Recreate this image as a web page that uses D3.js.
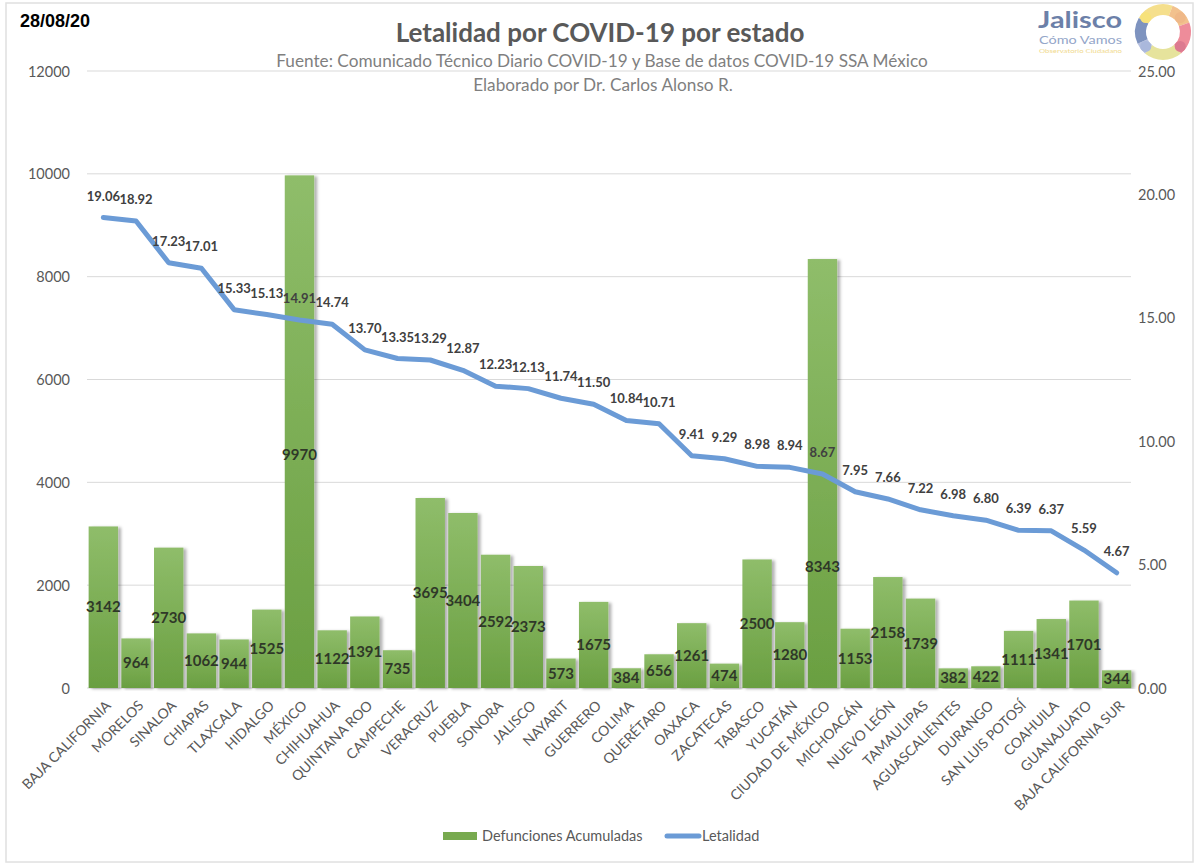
<!DOCTYPE html>
<html>
<head>
<meta charset="utf-8">
<script src="https://cdn.jsdelivr.net/npm/d3@7"></script>
<style>
  body { margin: 0; background: #fff; }
  svg { display: block; font-family: Lato, "Open Sans", sans-serif; }
</style>
</head>
<body>
<svg id="chart" width="1200" height="866"></svg>
<script>
// data
const states = ["BAJA CALIFORNIA", "MORELOS", "SINALOA", "CHIAPAS", "TLAXCALA", "HIDALGO", "MÉXICO",
  "CHIHUAHUA", "QUINTANA ROO", "CAMPECHE", "VERACRUZ", "PUEBLA", "SONORA", "JALISCO", "NAYARIT",
  "GUERRERO", "COLIMA", "QUERÉTARO", "OAXACA", "ZACATECAS", "TABASCO", "YUCATÁN", "CIUDAD DE MÉXICO",
  "MICHOACÁN", "NUEVO LEÓN", "TAMAULIPAS", "AGUASCALIENTES", "DURANGO", "SAN LUIS POTOSÍ", "COAHUILA",
  "GUANAJUATO", "BAJA CALIFORNIA SUR"];
const defunciones = [3142, 964, 2730, 1062, 944, 1525, 9970, 1122, 1391, 735, 3695, 3404, 2592, 2373, 573,
  1675, 384, 656, 1261, 474, 2500, 1280, 8343, 1153, 2158, 1739, 382, 422, 1111, 1341, 1701, 344];
const letalidad = [19.06, 18.92, 17.23, 17.01, 15.33, 15.13, 14.91, 14.74, 13.70, 13.35, 13.29, 12.87, 12.23,
  12.13, 11.74, 11.50, 10.84, 10.71, 9.41, 9.29, 8.98, 8.94, 8.67, 7.95, 7.66, 7.22, 6.98, 6.80, 6.39, 6.37,
  5.59, 4.67];
const leftTicks = [0, 2000, 4000, 6000, 8000, 10000, 12000];
const rightTicks = [0, 5, 10, 15, 20, 25];
const logoColors = ["#f5df8c", "#f2c18d", "#ee8c9a", "#e6e39c", "#b6c0e0", "#7e93bf"];

// two bar labels were moved by hand in the original
const labelNudge = { "MÉXICO": 23, "CIUDAD DE MÉXICO": 93 };

const data = states.map((s, i) => ({ state: s, deaths: defunciones[i], rate: letalidad[i] }));

const svg = d3.select("#chart");
const plotTop = 71, plotBottom = 688, plotLeft = 87, plotRight = 1133;

const x = d3.scaleBand().domain(states).range([plotLeft, plotRight]).paddingInner(0.1).paddingOuter(0.05);
const yL = d3.scaleLinear().domain([0, 12000]).range([plotBottom, plotTop]);
const yR = d3.scaleLinear().domain([0, 25]).range([plotBottom, plotTop]);
const cx = d => x(d.state) + x.bandwidth() / 2;

const defs = svg.append("defs");
const grad = defs.append("linearGradient").attr("id", "barGrad")
  .attr("x1", 0).attr("y1", 0).attr("x2", 0).attr("y2", 1);
grad.append("stop").attr("offset", "0%").attr("stop-color", "#8fbd6a");
grad.append("stop").attr("offset", "100%").attr("stop-color", "#6a9f41");
const sh = defs.append("filter").attr("id", "shadow")
  .attr("x", "-20%").attr("y", "-5%").attr("width", "150%").attr("height", "110%");
sh.append("feDropShadow").attr("dx", 3).attr("dy", 1).attr("stdDeviation", 1.6)
  .attr("flood-color", "#000").attr("flood-opacity", 0.3);

// frame
svg.append("rect").attr("x", 6).attr("y", 3).attr("width", 1187).attr("height", 859)
  .attr("fill", "none").attr("stroke", "#e0e0e0").attr("stroke-width", 1.5);

// gridlines
svg.append("g").selectAll("line").data(leftTicks).join("line")
  .attr("x1", plotLeft).attr("x2", plotRight - 2)
  .attr("y1", d => yL(d)).attr("y2", d => yL(d))
  .attr("stroke", "#d9d9d9").attr("stroke-width", 1);

// left axis
const axL = svg.append("g").attr("transform", `translate(${plotLeft - 14},0)`)
  .call(d3.axisLeft(yL).tickValues(leftTicks).tickFormat(d3.format("d")).tickSize(0));
axL.select(".domain").remove();
axL.selectAll("text").attr("font-family", "Lato, sans-serif").attr("font-size", 14.5)
  .attr("fill", "#595959").attr("dy", "0.35em");

// right axis
const axR = svg.append("g").attr("transform", `translate(${plotRight + 2},0)`)
  .call(d3.axisRight(yR).tickValues(rightTicks).tickFormat(d3.format(".2f")).tickSize(0));
axR.select(".domain").remove();
axR.selectAll("text").attr("font-family", "Lato, sans-serif").attr("font-size", 14.5)
  .attr("fill", "#595959").attr("dy", "0.35em");

// bars
svg.append("g").selectAll("rect").data(data).join("rect")
  .attr("x", d => x(d.state)).attr("width", x.bandwidth())
  .attr("y", d => yL(d.deaths)).attr("height", d => plotBottom - yL(d.deaths))
  .attr("fill", "url(#barGrad)").attr("filter", "url(#shadow)");

// bar labels
svg.append("g").selectAll("text").data(data).join("text")
  .attr("x", cx)
  .attr("y", d => (yL(d.deaths) + plotBottom) / 2 + (labelNudge[d.state] || 0))
  .attr("dy", "0.35em").attr("text-anchor", "middle")
  .attr("font-size", 15).attr("font-weight", "bold").attr("fill", "#2f3828")
  .text(d => d.deaths);

// x labels
svg.append("g").selectAll("text").data(data).join("text")
  .attr("transform", d => `translate(${cx(d) + 5},${plotBottom + 15}) rotate(-45)`)
  .attr("text-anchor", "end").attr("dy", "0.35em")
  .attr("font-size", 14).attr("fill", "#595959")
  .text(d => d.state);

// line
const line = d3.line().x(cx).y(d => yR(d.rate));
svg.append("path").datum(data)
  .attr("d", line).attr("fill", "none")
  .attr("stroke", "#6b9bd6").attr("stroke-width", 5)
  .attr("stroke-linejoin", "round").attr("stroke-linecap", "round");

// line labels
svg.append("g").selectAll("text").data(data).join("text")
  .attr("x", cx)
  .attr("y", d => yR(d.rate) - 17)
  .attr("text-anchor", "middle")
  .attr("font-size", 13).attr("font-weight", "bold").attr("fill", "#404040")
  .text(d => d3.format(".2f")(d.rate));

// titles
svg.append("text").attr("x", 20).attr("y", 27)
  .attr("font-family", "Liberation Sans, Arial, sans-serif").attr("font-weight", "bold")
  .attr("font-size", 18).attr("fill", "#000").text("28/08/20");
svg.append("text").attr("x", 600).attr("y", 42).attr("text-anchor", "middle")
  .attr("font-size", 26).attr("font-weight", "bold").attr("fill", "#595959")
  .text("Letalidad por COVID-19 por estado");
svg.append("text").attr("x", 602).attr("y", 67).attr("text-anchor", "middle")
  .attr("font-size", 17.2).attr("fill", "#7f7f7f")
  .text("Fuente: Comunicado Técnico Diario COVID-19 y Base de datos COVID-19 SSA México");
svg.append("text").attr("x", 603).attr("y", 91).attr("text-anchor", "middle")
  .attr("font-size", 17.2).attr("fill", "#7f7f7f")
  .text("Elaborado por Dr. Carlos Alonso R.");

// logo
const logo = svg.append("g");
logo.append("text").attr("x", 1038).attr("y", 28).attr("font-size", 23).attr("font-weight", "bold")
  .attr("fill", "#6c80a8").attr("textLength", 84).attr("lengthAdjust", "spacingAndGlyphs").text("Jalisco");
logo.append("text").attr("x", 1039).attr("y", 44).attr("font-size", 11.5)
  .attr("fill", "#94a6c9").attr("textLength", 83).attr("lengthAdjust", "spacingAndGlyphs").text("Cómo Vamos");
logo.append("text").attr("x", 1039).attr("y", 53).attr("font-size", 6)
  .attr("fill", "#f1da8e").attr("textLength", 83).attr("lengthAdjust", "spacingAndGlyphs").text("Observatorio Ciudadano");
const ring = logo.append("g").attr("transform", "translate(1163,32)");
const pie = d3.pie().sort(null).startAngle(-Math.PI / 3).endAngle(Math.PI * 5 / 3);
const arc = d3.arc().innerRadius(17).outerRadius(28);
ring.selectAll("path").data(pie([80, 50, 70, 80, 25, 55])).join("path")
  .attr("d", arc).attr("fill", (d, i) => logoColors[i]);
const dots = [[-50, "#f7e27a"], [50, "#efb888"], [130, "#dc7a90"], [-130, "#aab8dc"]];
ring.selectAll("circle").data(dots).join("circle")
  .attr("cx", d => 22.5 * Math.sin(d[0] * Math.PI / 180))
  .attr("cy", d => -22.5 * Math.cos(d[0] * Math.PI / 180))
  .attr("r", 5.5).attr("fill", d => d[1]);

// legend
const lg = svg.append("g");
lg.append("rect").attr("x", 443).attr("y", 832).attr("width", 34).attr("height", 8).attr("fill", "#78aa4f");
lg.append("text").attr("x", 482).attr("y", 841).attr("font-size", 14.5).attr("fill", "#595959")
  .text("Defunciones Acumuladas");
lg.append("line").attr("x1", 667).attr("x2", 699).attr("y1", 836).attr("y2", 836)
  .attr("stroke", "#6b9bd6").attr("stroke-width", 5).attr("stroke-linecap", "round");
lg.append("text").attr("x", 702).attr("y", 841).attr("font-size", 14.5).attr("fill", "#595959")
  .text("Letalidad");
</script>
</body>
</html>
